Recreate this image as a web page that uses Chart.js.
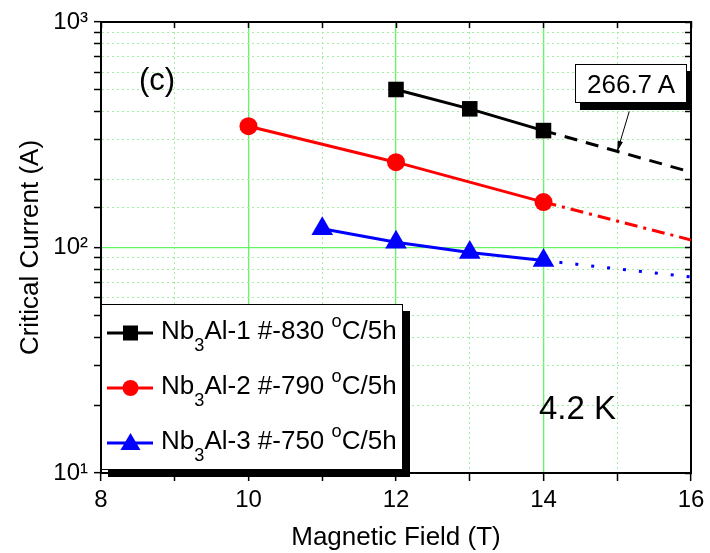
<!DOCTYPE html>
<html>
<head>
<meta charset="utf-8">
<script src="https://cdn.jsdelivr.net/npm/chart.js@4.4.1/dist/chart.umd.min.js"></script>
<style>
  html, body { margin: 0; padding: 0; background: #fff; }
  #wrap { position: relative; width: 710px; height: 553px; font-family: "Liberation Sans", Arial, sans-serif; color: #000; }
  #chart { position: absolute; left: 0; top: 0; }
  .note { position: absolute; white-space: nowrap; line-height: 1; }
  #legend { position: absolute; left: 101px; top: 304px; width: 300px; height: 164px; border: 1px solid #000; background: #fff; box-shadow: 7px 7px 0 #000; }
  .row { position: absolute; left: 59px; font-size: 26px; line-height: 26px; white-space: nowrap; }
  .row sub, .row sup { font-size: 70%; line-height: 0; position: relative; vertical-align: baseline; }
  .row sub { top: 12px; }
  .row sup { top: -12px; }
  .sym { position: absolute; left: 0; width: 60px; height: 30px; }
  #valueBox { position: absolute; left: 575px; top: 64px; width: 110px; height: 37px; border: 1px solid #000; background: #fff; box-shadow: 5px 7px 0 #000; }
  #valueBox span { position: absolute; left: 11px; top: 6px; font-size: 26px; line-height: 1; }
</style>
</head>
<body>
<div id="wrap">
  <canvas id="chart" width="710" height="553"></canvas>
  <div class="note" style="left:139px; top:64px; font-size:31px;">(c)</div>
  <div class="note" style="left:539px; top:391px; font-size:33px;">4.2 K</div>
  <div id="valueBox"><span>266.7 A</span></div>
  <div id="legend">
    <svg class="sym" style="top:13px" viewBox="0 0 60 30"><line x1="5" y1="15" x2="51" y2="15" stroke="#000" stroke-width="3"/><rect x="21" y="7.5" width="15" height="15" fill="#000"/></svg>
    <div class="row" style="top:12px">Nb<sub>3</sub>Al-1 #-830 <sup>o</sup>C/5h</div>
    <svg class="sym" style="top:68px" viewBox="0 0 60 30"><line x1="5" y1="15" x2="51" y2="15" stroke="#f00" stroke-width="3"/><circle cx="28.5" cy="15" r="8" fill="#f00"/></svg>
    <div class="row" style="top:67px">Nb<sub>3</sub>Al-2 #-790 <sup>o</sup>C/5h</div>
    <svg class="sym" style="top:123px" viewBox="0 0 60 30"><line x1="5" y1="15" x2="51" y2="15" stroke="#00f" stroke-width="3"/><polygon points="28.5,5 38.5,22 18.5,22" fill="#00f"/></svg>
    <div class="row" style="top:122px">Nb<sub>3</sub>Al-3 #-750 <sup>o</sup>C/5h</div>
  </div>
</div>
<script>
// measured points (field in T, critical current in A)
const sample1Field = [12, 13, 14];
const sample1Ic = [502, 412, 330];
const sample2Field = [10, 12, 14];
const sample2Ic = [345, 239, 159];
const sample3Field = [11, 12, 13, 14];
const sample3Ic = [121, 105.5, 95, 87.5];

// extrapolated tails
const sample1ExtField = [14, 16];
const sample1ExtIc = [330, 216];
const sample2ExtField = [14, 16];
const sample2ExtIc = [159, 108];
const sample3ExtField = [14, 16];
const sample3ExtIc = [87.5, 74];

// arrow annotation on the sample 1 tail
const annotationField = 15;
const annotationIc = 266.7;

const xTickLabels = { 8: '8', 10: '10', 12: '12', 14: '14', 16: '16' };
const yTickLabels = { 10: '10\u00b9', 100: '10\u00b2', 1000: '10\u00b3' };

const MAJOR_GRID = 'rgb(100,245,100)';
const MINOR_GRID = 'rgb(160,240,160)';
const FONT = '"Liberation Sans", Arial, sans-serif';

const pts = (xs, ys) => xs.map((x, i) => ({ x, y: ys[i] }));
const isDecade = (v) => Math.abs(Math.log10(v) - Math.round(Math.log10(v))) < 1e-6;

const arrowPlugin = {
  id: 'arrow',
  afterDatasetsDraw(chart) {
    const { ctx, scales } = chart;
    const tx = scales.x.getPixelForValue(annotationField);
    const ty = scales.y.getPixelForValue(annotationIc);
    const sx = tx + 12, sy = ty - 40;
    const ang = Math.atan2(ty - sy, tx - sx);
    ctx.save();
    ctx.strokeStyle = '#000';
    ctx.fillStyle = '#000';
    ctx.lineWidth = 1;
    ctx.beginPath();
    ctx.moveTo(sx, sy);
    ctx.lineTo(tx, ty);
    ctx.stroke();
    ctx.beginPath();
    ctx.moveTo(tx, ty);
    ctx.lineTo(tx - 11 * Math.cos(ang - 0.25), ty - 11 * Math.sin(ang - 0.25));
    ctx.lineTo(tx - 11 * Math.cos(ang + 0.25), ty - 11 * Math.sin(ang + 0.25));
    ctx.closePath();
    ctx.fill();
    ctx.restore();
  },
};

new Chart(document.getElementById('chart'), {
  type: 'line',
  plugins: [arrowPlugin],
  data: {
    datasets: [
      { data: pts(sample1ExtField, sample1ExtIc), borderColor: '#000', borderWidth: 3, borderDash: [13, 9], pointRadius: 0 },
      { data: pts(sample2ExtField, sample2ExtIc), borderColor: '#f00', borderWidth: 3, borderDash: [13, 6, 3, 6], pointRadius: 0 },
      { data: pts(sample3ExtField, sample3ExtIc), borderColor: '#00f', borderWidth: 3, borderDash: [3, 13], pointRadius: 0 },
      {
        label: 'Nb3Al-1 #-830 oC/5h',
        data: pts(sample1Field, sample1Ic),
        borderColor: '#000', backgroundColor: '#000', borderWidth: 3,
        pointStyle: 'rect', pointRadius: 11, pointBorderWidth: 0,
      },
      {
        label: 'Nb3Al-2 #-790 oC/5h',
        data: pts(sample2Field, sample2Ic),
        borderColor: '#f00', backgroundColor: '#f00', borderWidth: 3,
        pointStyle: 'circle', pointRadius: 9, pointBorderWidth: 0,
      },
      {
        label: 'Nb3Al-3 #-750 oC/5h',
        data: pts(sample3Field, sample3Ic),
        borderColor: '#00f', backgroundColor: '#00f', borderWidth: 3,
        pointStyle: 'triangle', pointRadius: 12.5, pointBorderWidth: 0,
      },
    ],
  },
  options: {
    responsive: false,
    animation: false,
    events: [],
    layout: { padding: { left: 0, top: 22, right: 19, bottom: 0 } },
    plugins: { legend: { display: false }, tooltip: { enabled: false } },
    scales: {
      x: {
        type: 'linear', position: 'bottom', min: 8, max: 16,
        afterFit: (s) => { s.height = 80; },
        ticks: {
          stepSize: 1, autoSkip: false, maxRotation: 0, padding: 5,
          color: '#000', font: { family: FONT, size: 24 },
          callback: (v) => xTickLabels[v] || '',
        },
        grid: {
          color: (c) => {
            const v = c.tick && c.tick.value;
            if (v === 8 || v === 16) return 'rgba(0,0,0,0)';
            return v % 2 === 0 ? MAJOR_GRID : MINOR_GRID;
          },
          lineWidth: (c) => (c.tick && c.tick.value % 2 === 0 ? 1.3 : 1),
          tickColor: '#000', tickLength: 8, tickWidth: 1.5,
        },
        border: {
          color: '#000', width: 2,
          dash: (c) => (c.tick && c.tick.value % 2 !== 0 ? [2, 3] : []),
        },
        title: {
          display: true, text: 'Magnetic Field (T)', color: '#000',
          font: { family: FONT, size: 26 }, padding: { top: 0, bottom: 0 },
        },
      },
      y: {
        type: 'logarithmic', position: 'left', min: 10, max: 1000,
        afterFit: (s) => { s.width = 101; },
        ticks: {
          autoSkip: false, padding: 6,
          color: '#000', font: { family: FONT, size: 24 },
          callback: (v) => yTickLabels[v] || '',
        },
        grid: {
          color: (c) => {
            const v = c.tick && c.tick.value;
            if (v === 10 || v === 1000) return 'rgba(0,0,0,0)';
            return isDecade(v) ? MAJOR_GRID : MINOR_GRID;
          },
          lineWidth: (c) => (c.tick && isDecade(c.tick.value) ? 1.3 : 1),
          tickColor: '#000', tickLength: 7, tickWidth: 1.5,
        },
        border: {
          color: '#000', width: 2,
          dash: (c) => (c.tick && !isDecade(c.tick.value) ? [2, 3] : []),
        },
        title: {
          display: true, text: 'Critical Current (A)', color: '#000',
          font: { family: FONT, size: 26 }, padding: { top: 15, bottom: 0 },
        },
      },
      xTop: {
        type: 'linear', position: 'top', min: 8, max: 16,
        afterFit: (s) => { s.height = 0; },
        ticks: { display: false, stepSize: 1 },
        grid: { drawOnChartArea: false, tickColor: '#000', tickLength: -6, tickWidth: 1.5 },
        border: { color: '#000', width: 2 },
      },
      yRight: {
        type: 'logarithmic', position: 'right', min: 10, max: 1000,
        afterFit: (s) => { s.width = 0; },
        ticks: { display: false, autoSkip: false },
        grid: { drawOnChartArea: false, tickColor: '#000', tickLength: -6, tickWidth: 1.5 },
        border: { color: '#000', width: 2 },
      },
    },
  },
});
</script>
</body>
</html>
